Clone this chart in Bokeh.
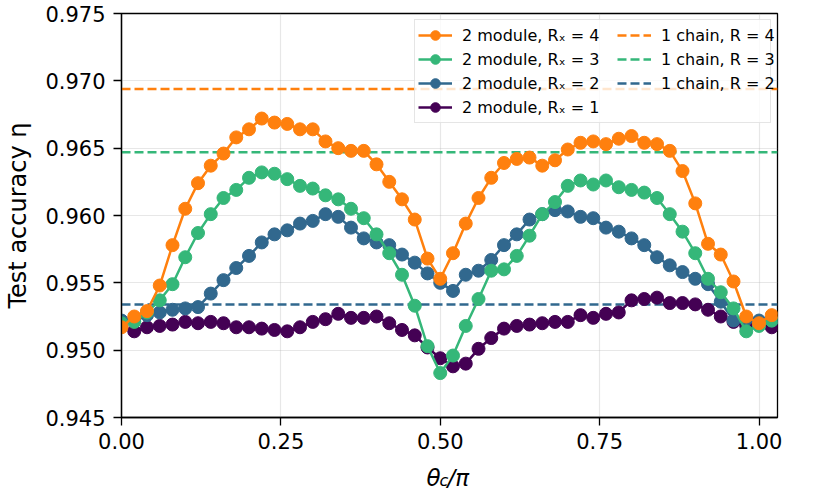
from bokeh.plotting import figure
from bokeh.layouts import column
from bokeh.models import Legend, LegendItem, FixedTicker, Label, Range1d, NumeralTickFormatter
from bokeh.embed import file_html
from bokeh.resources import INLINE

# ---------------- data ----------------
THETA = [0.00, 0.02, 0.04, 0.06, 0.08, 0.10, 0.12, 0.14, 0.16, 0.18,
         0.20, 0.22, 0.24, 0.26, 0.28, 0.30, 0.32, 0.34, 0.36, 0.38,
         0.40, 0.42, 0.44, 0.46, 0.48, 0.50, 0.52, 0.54, 0.56, 0.58,
         0.60, 0.62, 0.64, 0.66, 0.68, 0.70, 0.72, 0.74, 0.76, 0.78,
         0.80, 0.82, 0.84, 0.86, 0.88, 0.90, 0.92, 0.94, 0.96, 0.98,
         1.00, 1.02]

ACC_R4 = [0.9517, 0.9525, 0.9529, 0.9548, 0.9578, 0.9605, 0.9624, 0.9637, 0.9646, 0.9658,
          0.9664, 0.9672, 0.9669, 0.9668, 0.9664, 0.9664, 0.9655, 0.9650, 0.9648, 0.9648,
          0.9638, 0.9625, 0.9612, 0.9597, 0.9568, 0.9553, 0.9572, 0.9594, 0.9613, 0.9628,
          0.9639, 0.9642, 0.9643, 0.9637, 0.9641, 0.9649, 0.9654, 0.9655, 0.9653, 0.9657,
          0.9659, 0.9654, 0.9653, 0.9648, 0.9633, 0.9609, 0.9579, 0.9571, 0.9551, 0.9525,
          0.9520, 0.9526]

ACC_R3 = [0.9520, 0.9521, 0.9528, 0.9537, 0.9549, 0.9569, 0.9587, 0.9601, 0.9613, 0.9619,
          0.9628, 0.9632, 0.9631, 0.9627, 0.9622, 0.9620, 0.9615, 0.9612, 0.9605, 0.9598,
          0.9586, 0.9572, 0.9556, 0.9533, 0.9503, 0.9483, 0.9496, 0.9518, 0.9538, 0.9559,
          0.9560, 0.9570, 0.9585, 0.9601, 0.9610, 0.9622, 0.9626, 0.9623, 0.9626, 0.9621,
          0.9619, 0.9617, 0.9613, 0.9601, 0.9588, 0.9572, 0.9553, 0.9543, 0.9531, 0.9514,
          0.9518, 0.9522]

ACC_R2 = [0.9522, 0.9523, 0.9526, 0.9528, 0.9530, 0.9531, 0.9532, 0.9542, 0.9552, 0.9561,
          0.9570, 0.9580, 0.9586, 0.9589, 0.9594, 0.9596, 0.9601, 0.9599, 0.9591, 0.9583,
          0.9580, 0.9578, 0.9571, 0.9565, 0.9557, 0.9550, 0.9544, 0.9556, 0.9559, 0.9567,
          0.9578, 0.9586, 0.9597, 0.9601, 0.9604, 0.9603, 0.9599, 0.9598, 0.9591, 0.9588,
          0.9583, 0.9578, 0.9569, 0.9563, 0.9558, 0.9553, 0.9549, 0.9536, 0.9522, 0.9523,
          0.9522, 0.9522]

ACC_R1 = [0.9518, 0.9514, 0.9517, 0.9518, 0.9519, 0.9521, 0.9520, 0.9521, 0.9520, 0.9517,
          0.9517, 0.9516, 0.9515, 0.9514, 0.9517, 0.9521, 0.9523, 0.9527, 0.9524, 0.9524,
          0.9525, 0.9520, 0.9515, 0.9511, 0.9502, 0.9494, 0.9488, 0.9490, 0.9501, 0.9509,
          0.9516, 0.9518, 0.9519, 0.9520, 0.9521, 0.9521, 0.9526, 0.9524, 0.9527, 0.9528,
          0.9537, 0.9538, 0.9539, 0.9535, 0.9535, 0.9534, 0.9530, 0.9525, 0.9521, 0.9518,
          0.9521, 0.9517]

CHAIN_R4 = 0.9694
CHAIN_R3 = 0.9647
CHAIN_R2 = 0.9534

MODULE_LABELS = ["2 module, R\u2093 = 4", "2 module, R\u2093 = 3",
                 "2 module, R\u2093 = 2", "2 module, R\u2093 = 1"]
CHAIN_LABELS = ["1 chain, R = 4", "1 chain, R = 3", "1 chain, R = 2"]

X_TICKS = [0.0, 0.25, 0.5, 0.75, 1.0]
Y_TICKS = [0.945, 0.950, 0.955, 0.960, 0.965, 0.970, 0.975]
XLIM = (0.0, 1.029)
YLIM = (0.945, 0.975)

# ---------------- style ----------------
C_R4 = "#ff800e"
C_R3 = "#35b779"
C_R2 = "#31688e"
C_R1 = "#440154"
FONT = "DejaVu Sans"

W = 806
H_MAIN = 460
H_XLAB = 30
BL, BR, BT = 121, 29, 13
BB = H_MAIN - 417

p = figure(width=W, height=H_MAIN,
           x_range=Range1d(*XLIM), y_range=Range1d(*YLIM),
           output_backend="svg", toolbar_location=None,
           min_border_left=BL, min_border_right=BR,
           min_border_top=BT, min_border_bottom=BB)

p.background_fill_color = "white"
p.border_fill_color = "white"
p.outline_line_color = "black"
p.outline_line_width = 1.3
p.outline_line_alpha = 1.0

for ax in (p.xaxis[0], p.yaxis[0]):
    ax.axis_line_color = "black"
    ax.axis_line_width = 1.3
    ax.major_tick_line_color = "black"
    ax.major_tick_line_width = 1.3
    ax.major_tick_out = 8
    ax.major_tick_in = 0
    ax.minor_tick_line_color = None
    ax.major_label_text_font = FONT
    ax.major_label_text_font_size = "21px"
    ax.major_label_text_color = "black"

p.xaxis.ticker = FixedTicker(ticks=X_TICKS)
p.yaxis.ticker = FixedTicker(ticks=Y_TICKS)
p.xaxis.formatter = NumeralTickFormatter(format="0.00")
p.yaxis.formatter = NumeralTickFormatter(format="0.000")
p.xaxis.major_label_standoff = 7
p.yaxis.major_label_standoff = 8

p.yaxis.axis_label = "Test accuracy \u03b7"
p.yaxis.axis_label_text_font = FONT
p.yaxis.axis_label_text_font_style = "normal"
p.yaxis.axis_label_text_font_size = "24px"
p.yaxis.axis_label_text_color = "black"
p.yaxis.axis_label_standoff = 10

p.grid.grid_line_color = "#b0b0b0"
p.grid.grid_line_alpha = 0.3
p.grid.grid_line_width = 1.2

# chain reference lines (dashed)
chain_renderers = []
for val, col in [(CHAIN_R4, C_R4), (CHAIN_R3, C_R3), (CHAIN_R2, C_R2)]:
    r = p.line(x=list(XLIM), y=[val, val], line_color=col, line_width=2.5,
               line_dash="9 4")
    chain_renderers.append(r)

# module series (purple drawn first, orange on top)
mod_renderers = {}
for key, vals, col in [("R1", ACC_R1, C_R1), ("R2", ACC_R2, C_R2),
                       ("R3", ACC_R3, C_R3), ("R4", ACC_R4, C_R4)]:
    ln = p.line(THETA, vals, line_color=col, line_width=2.5)
    sc = p.scatter(THETA, vals, size=13, fill_color=col, line_color=col,
                   marker="circle")
    mod_renderers[key] = [ln, sc]

PAD, GH, SP = 3, 24, -1
common = dict(orientation="vertical", padding=PAD, spacing=SP,
              glyph_width=34, glyph_height=GH, label_standoff=10,
              label_text_font=FONT, label_text_font_size="16px",
              label_text_color="black")

# legend box with the module entries (wide enough to host both columns)
legend_a = Legend(items=[
    LegendItem(label=MODULE_LABELS[0], renderers=mod_renderers["R4"]),
    LegendItem(label=MODULE_LABELS[1], renderers=mod_renderers["R3"]),
    LegendItem(label=MODULE_LABELS[2], renderers=mod_renderers["R2"]),
    LegendItem(label=MODULE_LABELS[3], renderers=mod_renderers["R1"]),
], location="top_right", margin=6, label_width=305,
    border_line_color="#cccccc", border_line_width=1,
    background_fill_color="white", background_fill_alpha=0.8, **common)
p.add_layout(legend_a)

# second column (chain entries), drawn on top of the same box
frame_h = H_MAIN - BT - BB
legend_b_h = 2 * PAD + 3 * GH + 2 * SP
legend_b = Legend(items=[
    LegendItem(label=CHAIN_LABELS[0], renderers=[chain_renderers[0]]),
    LegendItem(label=CHAIN_LABELS[1], renderers=[chain_renderers[1]]),
    LegendItem(label=CHAIN_LABELS[2], renderers=[chain_renderers[2]]),
], location=(496, frame_h - 6 - legend_b_h), margin=0,
    border_line_color=None, background_fill_alpha=0.0, **common)
p.add_layout(legend_b)

# x axis label strip (shares the x range so it aligns with the frame)
q = figure(width=W, height=H_XLAB, x_range=p.x_range, y_range=Range1d(0, H_XLAB),
           output_backend="svg", toolbar_location=None,
           min_border_left=BL, min_border_right=BR, min_border_top=0, min_border_bottom=0)
q.axis.visible = False
q.grid.visible = False
q.outline_line_color = None
q.background_fill_color = "white"
q.border_fill_color = "white"

XMID = (XLIM[0] + XLIM[1]) / 2
for txt, dx, yb, size in [("\u03b8", -23, 13, "23px"),
                          ("c", -10, 10, "16px"),
                          ("/\u03c0", -2, 13, "23px")]:
    q.add_layout(Label(x=XMID, y=yb, x_offset=dx, text=txt,
                       text_font=FONT, text_font_style="italic",
                       text_font_size=size, text_color="black",
                       text_align="left", text_baseline="alphabetic"))

layout = column(p, q, spacing=0)
open("out.html", "w").write(file_html(layout, INLINE))
